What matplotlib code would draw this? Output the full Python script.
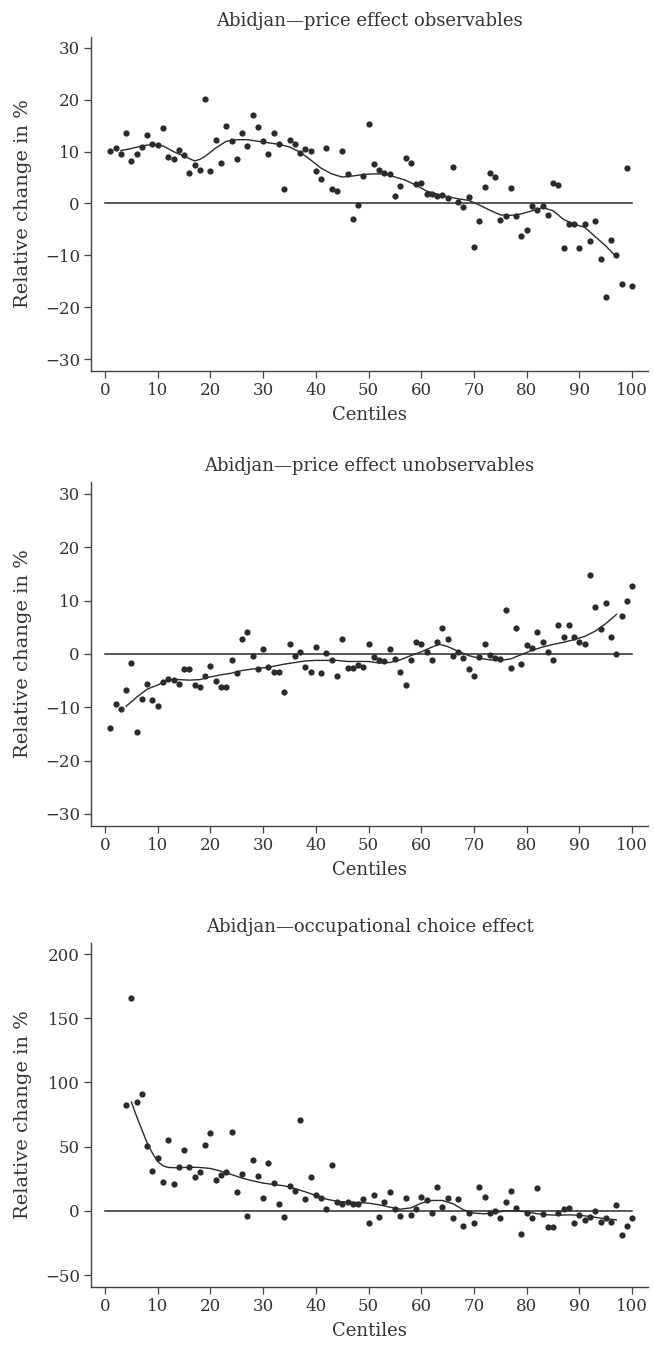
import matplotlib.pyplot as plt
import numpy as np

plt.rcParams['font.family'] = ['DejaVu Serif', 'Liberation Serif']

centiles = list(range(1, 101))

# price effect observables, centiles 1..100
obs = [10.2, 10.7, 9.6, 13.5, 8.1, 9.6, 10.8, 13.2, 11.4, 11.3,
       14.5, 8.9, 8.6, 10.4, 9.3, 5.9, 7.4, 6.4, 20.2, 6.2,
       12.2, 7.8, 15.0, 12.0, 8.6, 13.5, 11.1, 17.1, 14.8, 12.0,
       9.6, 13.6, 11.4, 2.7, 12.2, 11.4, 9.8, 10.5, 10.1, 6.2,
       4.8, 10.7, 2.7, 2.4, 10.2, 5.6, -2.9, -0.3, 5.3, 15.3,
       7.7, 6.4, 5.9, 5.6, 1.5, 3.3, 8.8, 7.8, 3.7, 4.0,
       1.9, 1.8, 1.5, 1.7, 1.1, 7.1, 0.3, -0.6, 1.2, -8.4,
       -3.4, 3.2, 5.9, 5.1, -3.2, -2.4, 3.0, -2.4, -6.2, -5.1,
       -0.5, -1.2, -0.5, -2.3, 3.9, 3.6, -8.6, -4.0, -3.9, -8.6,
       -4.0, -7.2, -3.3, -10.7, -18.1, -7.1, -9.9, -15.6, 6.8, -15.9]
obs_fit_x = [3, 5, 7, 9, 11, 13, 15, 17, 18, 19, 21, 23, 25, 27, 29, 31, 33, 35,
             37, 39, 41, 43, 45, 47, 49, 51, 53, 55, 57, 59, 61, 63, 65, 67,
             69, 71, 73, 75, 77, 79, 81, 83, 85, 87, 89, 91, 93, 95, 97]
obs_fit = [10.2, 10.6, 11.1, 11.4, 11.1, 10.0, 9.1, 8.2, 8.5, 9.1, 10.7, 12.0,
           12.3, 12.3, 12.0, 11.7, 11.4, 10.9, 9.9, 8.4, 6.8, 5.7, 5.1, 5.3,
           5.6, 5.7, 5.7, 5.1, 4.5, 3.5, 2.4, 1.8, 1.3, 0.9, 0.6, -0.3, -1.3,
           -2.2, -2.3, -2.0, -1.4, -0.8, -1.4, -3.1, -4.0, -4.6, -6.4, -8.2, -10.3]

# price effect unobservables
unobs = [-13.8, -9.4, -10.4, -6.8, -1.7, -14.6, -8.4, -5.6, -8.7, -9.8,
         -5.3, -4.6, -4.8, -5.6, -2.9, -2.9, -5.9, -6.1, -4.1, -2.2,
         -5.1, -6.1, -6.2, -1.1, -3.6, 2.8, 4.1, -0.4, -2.9, 0.9,
         -2.4, -3.4, -3.4, -7.1, 1.9, -0.3, 0.4, -2.5, -3.4, 1.4,
         -3.6, 0.2, -1.2, -4.2, 2.8, -2.7, -2.7, -2.1, -2.5, 1.9,
         -0.6, -1.2, -1.4, 0.9, -0.9, -3.4, -5.9, -1.2, 2.2, 1.9,
         0.3, -1.2, 2.2, 4.9, 2.9, -0.4, 0.4, -0.7, -2.8, -4.1,
         -0.6, 1.9, -0.1, -0.8, -0.9, 8.3, -2.6, 4.9, -1.9, 1.6,
         1.2, 4.1, 2.3, 0.3, -1.1, 5.5, 3.1, 5.5, 3.2, 2.2,
         1.8, 14.8, 8.8, 4.7, 9.6, 3.1, 0.0, 7.2, 9.9, 12.7]
unobs_fit_x = [4, 6, 8, 10, 12, 14, 16, 18, 20, 22, 24, 26, 28, 30, 32, 34, 36,
               38, 40, 42, 44, 46, 48, 50, 52, 54, 56, 58, 60, 62, 63.5, 65, 67,
               69, 71, 73, 75, 77, 79, 81, 83, 85, 87, 89, 91, 93, 95, 97]
unobs_fit = [-9.8, -8.1, -6.6, -5.8, -4.8, -4.8, -4.9, -4.8, -4.3, -3.9, -3.6,
             -3.1, -2.8, -2.6, -2.3, -1.9, -1.6, -1.3, -1.2, -1.2, -1.2, -1.4,
             -1.4, -1.4, -1.7, -1.6, -1.1, -0.3, 0.4, 1.3, 1.8, 1.4, 0.5, -0.3,
             -0.8, -1.1, -1.2, -0.9, -0.1, 0.7, 1.3, 1.8, 2.2, 2.7, 3.3, 4.3,
             5.7, 7.4]

# occupational choice effect, centiles 4..100
occ_x = list(range(4, 101))
occ = [82.6, 165.5, 84.7, 91.2, 50.6, 31.4, 41.3, 22.6, 54.8, 21.0,
       33.8, 47.3, 34.5, 26.2, 29.9, 50.9, 61.0, 24.2, 27.8, 29.9,
       61.3, 14.3, 28.6, -4.2, 39.5, 26.8, 10.1, 37.1, 21.6, 5.5,
       -4.4, 19.0, 15.3, 70.4, 9.1, 26.2, 12.7, 10.1, 1.6, 35.8,
       7.0, 5.7, 7.0, 5.7, 5.5, 9.6, -9.6, 12.2, -4.4, 7.0,
       14.8, 1.6, -4.2, 9.9, -2.9, 1.3, 10.6, 8.6, -1.8, 18.7,
       2.9, 10.1, -5.5, 9.6, -11.7, -1.8, -9.6, 18.2, 10.9, -1.8,
       -0.5, -5.5, 6.8, 15.1, 2.1, -18.2, -1.8, -5.2, 17.9, -2.3,
       -12.7, -12.5, -1.8, 1.8, 2.3, -9.6, -3.1, -7.0, -4.9, -0.5,
       -8.3, -5.5, -8.8, 4.2, -18.7, -11.9, -5.7]
occ_fit_x = [5, 6, 7, 8, 9, 10, 11, 12, 14, 16, 18, 20, 22, 24, 26, 28, 30, 32,
             34, 36, 38, 40, 42, 44, 46, 48, 50, 52, 54, 56, 58, 60, 62, 64,
             66, 68, 70, 72, 74, 76, 78, 80, 82, 84, 86, 88, 90, 92, 94, 96, 97]
occ_fit = [84.7, 73.5, 63.1, 52.7, 44.9, 38.4, 35.1, 33.8, 33.5, 34.0, 33.8,
           33.0, 30.9, 28.3, 25.5, 23.4, 21.6, 20.5, 19.5, 17.4, 14.8, 11.9,
           9.1, 7.5, 6.8, 6.5, 6.0, 4.7, 2.9, 1.3, 2.3, 6.0, 8.1, 8.1, 5.5,
           0.8, -1.8, -2.3, -1.3, 0.0, 0.0, -0.8, -2.3, -3.1, -3.4, -3.1,
           -3.4, -4.4, -5.7, -6.5, -7.0]

panels = [
    ('Abidjan\u2014price effect observables', centiles, obs, obs_fit_x, obs_fit,
     [30, 20, 10, 0, -10, -20, -30], (-32.3, 32.1), (1 - 371 / 1351, 334 / 1351)),
    ('Abidjan\u2014price effect unobservables', centiles, unobs, unobs_fit_x, unobs_fit,
     [30, 20, 10, 0, -10, -20, -30], (-32.25, 32.25), (1 - 826 / 1351, 344 / 1351)),
    ('Abidjan\u2014occupational choice effect', occ_x, occ, occ_fit_x, occ_fit,
     [200, 150, 100, 50, 0, -50], (-59.3, 208.6), (1 - 1287 / 1351, 344 / 1351)),
]

ink = '#2b2b2b'
fig = plt.figure(figsize=(6.54, 13.51), dpi=100)

for title, x, y, fx, fy, yticks, ylim, (bottom, height) in panels:
    ax = fig.add_axes([91 / 654, bottom, 557 / 654, height])
    ax.plot([0, 100], [0, 0], color=ink, lw=1.1)
    ax.plot(fx, fy, color=ink, lw=1.0)
    ax.plot(x, y, 'o', color=ink, markersize=4.5, markeredgewidth=0)
    ax.set_xlim(-2.66, 103)
    ax.set_ylim(*ylim)
    ax.set_xticks(range(0, 101, 10))
    ax.set_yticks(yticks)
    ax.set_yticklabels([str(v).replace('-', '\u2212') for v in yticks])
    for s in ['top', 'right']:
        ax.spines[s].set_visible(False)
    for s in ['left', 'bottom']:
        ax.spines[s].set_color('#444444')
        ax.spines[s].set_linewidth(1.0)
    ax.tick_params(direction='out', length=5, width=0.9, color='#444444',
                   labelsize=12, labelcolor='#333333', pad=3)
    ax.set_xlabel('Centiles', fontsize=13, color='#333333', labelpad=5)
    ax.set_ylabel('Relative change in %', fontsize=14, color='#333333', labelpad=9)
    ax.set_title(title, fontsize=13, color='#333333', pad=8)

fig.savefig('out.png', dpi=100)
